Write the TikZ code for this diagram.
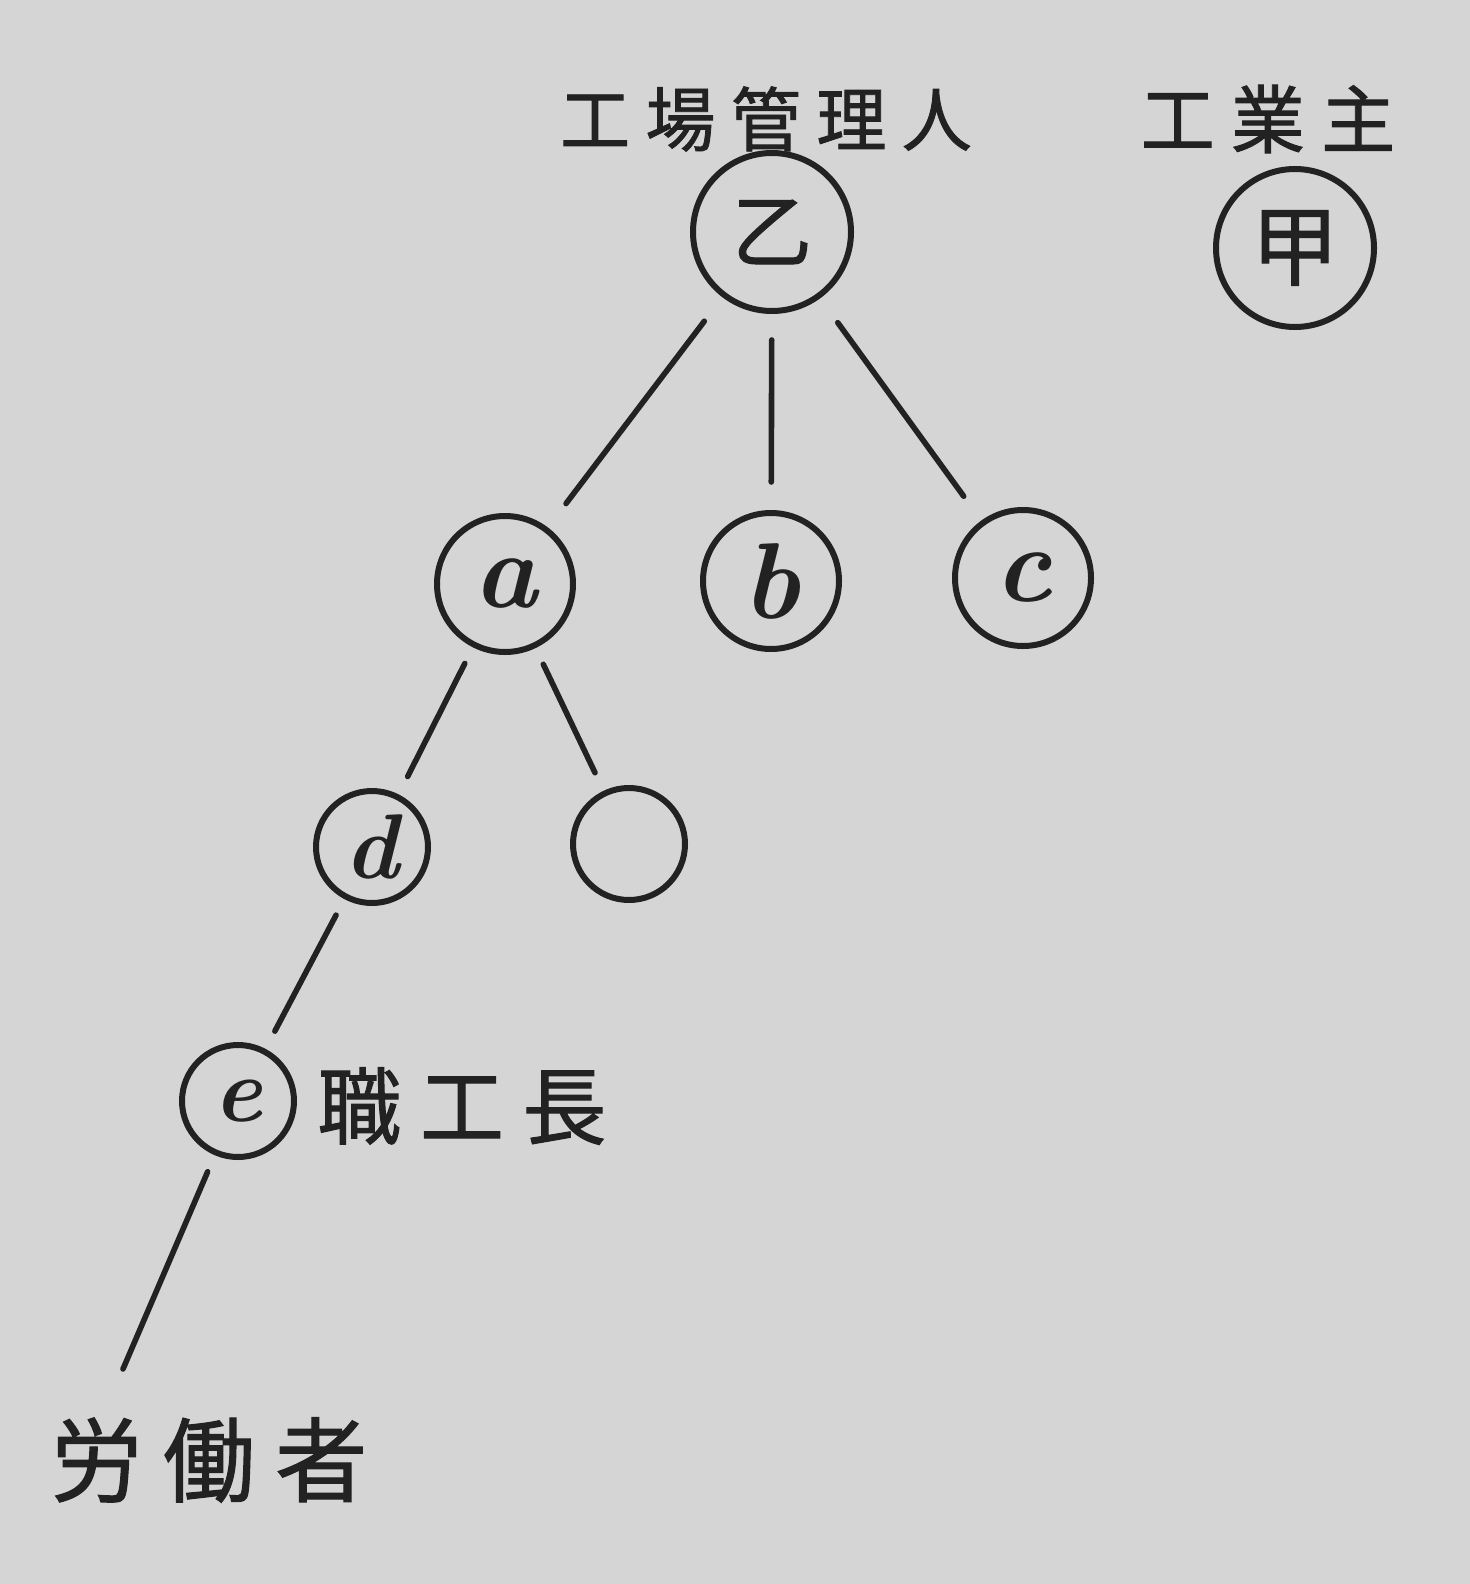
\documentclass[tikz,border=0pt]{standalone}
\usepackage{fontspec}
\newfontfamily\cjk[LetterSpace=22,FakeBold=1.2]{Noto Sans CJK JP}
\newfontfamily\cjkc[FakeBold=1.2]{Noto Sans CJK JP}
\definecolor{paper}{HTML}{D5D5D5}
\definecolor{ink}{HTML}{222222}
\begin{document}
\begin{tikzpicture}[x=0.5pt,y=-0.5pt,
  every node/.style={text=ink},
  big/.style={circle,draw=ink,line width=3pt,inner sep=0pt,minimum size=79pt},
  mid/.style={circle,draw=ink,line width=3pt,inner sep=0pt,minimum size=68pt,font=\fontsize{54}{54}\selectfont\bfseries\itshape},
  small/.style={circle,draw=ink,line width=3pt,inner sep=0pt,minimum size=56pt,font=\fontsize{46}{46}\selectfont\bfseries\itshape},
  link/.style={draw=ink,line width=2.8pt,line cap=round},
  lab/.style={font=\cjk\fontsize{35}{35}\selectfont,inner sep=0pt}]
\fill[paper] (0,0) rectangle (1470,1584);
\useasboundingbox (0,0) rectangle (1470,1584);
\node[big,font=\cjkc\fontsize{40}{40}\selectfont] (otsu) at (772,232) {乙};
\node[big,font=\cjkc\fontsize{44}{44}\selectfont] (ko) at (1295,248) {甲};
\node[mid] (a) at (505,584) {a};
\node[mid] (b) at (771,581) {b};
\node[mid] (c) at (1023,578) {c};
\node[small] (d) at (372,847) {d};
\node[small] (x) at (629,844) {};
\node[small] (e) at (238,1101) {e};
\coordinate (w) at (123,1369);
\node[lab] (l1) at (766,119) {工場管理人};
\node[lab,font=\cjk\fontsize{37}{37}\selectfont] (l2) at (1268,119) {工業主};
\node[lab,font=\cjk\fontsize{42}{42}\selectfont] (l3) at (462,1106) {職工長};
\node[lab,font=\cjk\fontsize{46}{46}\selectfont] (l4) at (209,1460) {労働者};
\draw[link,shorten <=15pt,shorten >=15pt] (otsu) -- (a);
\draw[link,shorten <=13pt,shorten >=14pt] (otsu) -- (b);
\draw[link,shorten <=15pt,shorten >=15pt] (otsu) -- (c);
\draw[link,shorten <=9pt,shorten >=10pt] (a) -- (d);
\draw[link,shorten <=9pt,shorten >=10pt] (a) -- (x);
\draw[link,shorten <=9pt,shorten >=10pt] (d) -- (e);
\draw[link,shorten <=9pt] (e) -- (w);
\end{tikzpicture}
\end{document}
